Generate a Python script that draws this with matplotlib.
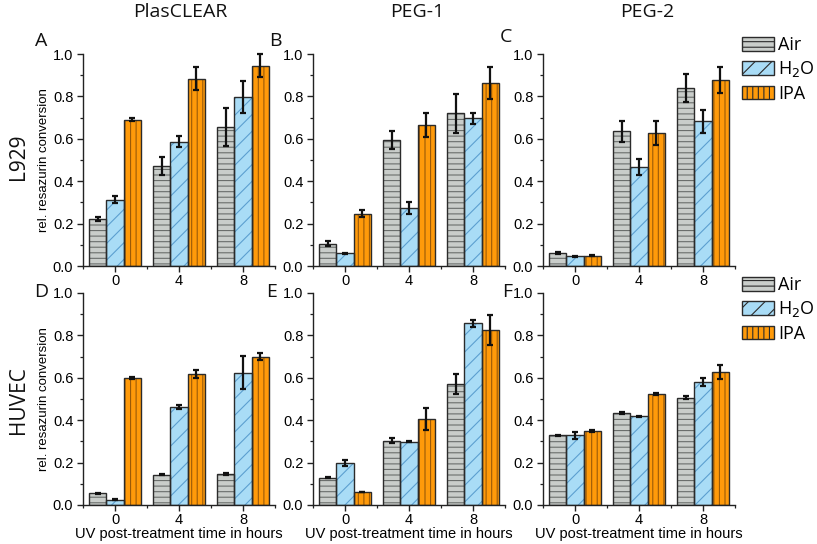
import numpy as np
import matplotlib
matplotlib.use("Agg")
import matplotlib.pyplot as plt
from matplotlib.patches import Patch
from matplotlib.ticker import MultipleLocator, FormatStrFormatter

# ---------------- data ----------------
times = ["0", "4", "8"]
series = ["Air", "H$_2$O", "IPA"]
materials = ["PlasCLEAR", "PEG-1", "PEG-2"]
cells = ["L929", "HUVEC"]
panel_letters = ["A", "B", "C", "D", "E", "F"]

# L929
A_air = [0.220, 0.471, 0.654]; A_air_err = [0.010, 0.044, 0.090]
A_h2o = [0.313, 0.587, 0.798]; A_h2o_err = [0.017, 0.028, 0.076]
A_ipa = [0.690, 0.883, 0.945]; A_ipa_err = [0.008, 0.054, 0.054]

B_air = [0.106, 0.594, 0.720]; B_air_err = [0.012, 0.043, 0.091]
B_h2o = [0.060, 0.274, 0.696]; B_h2o_err = [0.003, 0.028, 0.027]
B_ipa = [0.247, 0.666, 0.863]; B_ipa_err = [0.016, 0.057, 0.074]

C_air = [0.061, 0.635, 0.838]; C_air_err = [0.004, 0.050, 0.066]
C_h2o = [0.046, 0.465, 0.683]; C_h2o_err = [0.003, 0.038, 0.055]
C_ipa = [0.049, 0.628, 0.876]; C_ipa_err = [0.002, 0.058, 0.061]

# HUVEC
D_air = [0.055, 0.143, 0.146]; D_air_err = [0.003, 0.003, 0.004]
D_h2o = [0.024, 0.462, 0.624]; D_h2o_err = [0.002, 0.008, 0.077]
D_ipa = [0.599, 0.618, 0.700]; D_ipa_err = [0.006, 0.017, 0.016]

E_air = [0.128, 0.303, 0.571]; E_air_err = [0.002, 0.012, 0.046]
E_h2o = [0.199, 0.299, 0.857]; E_h2o_err = [0.015, 0.003, 0.018]
E_ipa = [0.060, 0.406, 0.826]; E_ipa_err = [0.001, 0.050, 0.070]

F_air = [0.328, 0.434, 0.506]; F_air_err = [0.003, 0.005, 0.006]
F_h2o = [0.328, 0.418, 0.580]; F_h2o_err = [0.015, 0.002, 0.020]
F_ipa = [0.351, 0.524, 0.629]; F_ipa_err = [0.005, 0.006, 0.033]

panels = [
    (A_air, A_air_err, A_h2o, A_h2o_err, A_ipa, A_ipa_err),
    (B_air, B_air_err, B_h2o, B_h2o_err, B_ipa, B_ipa_err),
    (C_air, C_air_err, C_h2o, C_h2o_err, C_ipa, C_ipa_err),
    (D_air, D_air_err, D_h2o, D_h2o_err, D_ipa, D_ipa_err),
    (E_air, E_air_err, E_h2o, E_h2o_err, E_ipa, E_ipa_err),
    (F_air, F_air_err, F_h2o, F_h2o_err, F_ipa, F_ipa_err),
]

# ---------------- style ----------------
fills = ["#c9cdca", "#a9dcf6", "#ff9a0a"]
hatch_cols = ["#6a6e6c", "#5c9fd0", "#9a5a08"]
hatches = ["---", "//", "|||"]
edge = "#2b2b2b"
plt.rcParams["hatch.linewidth"] = 0.8
tick_font = "Liberation Sans"
title_font = "Open Sans"

W, H = 817, 544
fig = plt.figure(figsize=(W / 100, H / 100), dpi=100)

lefts_px = [83, 313, 543]
ax_w_px = 192
rows_px = [(54, 266), (293, 505)]

bw = 0.27
offsets = [-bw, 0.0, bw]
x = np.arange(len(times))

axes = []
for i, pdata in enumerate(panels):
    r, c = divmod(i, 3)
    top, bot = rows_px[r]
    ax = fig.add_axes([lefts_px[c] / W, 1 - bot / H, ax_w_px / W, (bot - top) / H])
    axes.append(ax)
    for s in range(3):
        vals = pdata[2 * s]
        errs = pdata[2 * s + 1]
        # hatch layer
        ax.bar(x + offsets[s], vals, width=bw, color=fills[s], hatch=hatches[s],
               edgecolor=hatch_cols[s], linewidth=0, zorder=2)
        # outline layer
        ax.bar(x + offsets[s], vals, width=bw, facecolor="none",
               edgecolor=edge, linewidth=1.0, zorder=3)
        ax.errorbar(x + offsets[s], vals, yerr=errs, fmt="none", ecolor="#111111",
                    elinewidth=1.6, capsize=2.5, capthick=1.6, zorder=4, clip_on=False)
    ax.set_xlim(-0.5, 2.5)
    ax.set_ylim(0, 1.0)
    ax.spines["top"].set_visible(False)
    ax.spines["right"].set_visible(False)
    for sp in ("left", "bottom"):
        ax.spines[sp].set_linewidth(1.0)
        ax.spines[sp].set_color("#222222")
    ax.set_xticks(x)
    ax.set_xticklabels(times)
    ax.xaxis.set_minor_locator(MultipleLocator(0.5))
    ax.yaxis.set_major_locator(MultipleLocator(0.2))
    ax.yaxis.set_minor_locator(MultipleLocator(0.1))
    ax.yaxis.set_major_formatter(FormatStrFormatter("%.1f"))
    ax.tick_params(axis="both", which="major", length=4, width=1.0, direction="out",
                   labelsize=10.5, color="#222222", pad=3)
    ax.tick_params(axis="x", which="major", pad=2)
    ax.tick_params(axis="both", which="minor", length=2.5, width=0.9, direction="out",
                   color="#222222")
    for lab in ax.get_xticklabels() + ax.get_yticklabels():
        lab.set_fontfamily(tick_font)
    if c == 0:
        ax.set_ylabel("rel. resazurin conversion", fontsize=9.5, family=tick_font, labelpad=2)
    if r == 1:
        ax.set_xlabel("UV post-treatment time in hours", fontsize=10.5, family=tick_font,
                      labelpad=0)

# column titles
for c, name in enumerate(materials):
    cx = [180, 417, 647][c]
    fig.text(cx / W, 1 - 12 / H, name, ha="center", va="center", fontsize=14,
             family=title_font, color="#111111")

# row labels
for r, name in enumerate(cells):
    cy = [157, 400][r]
    fig.text(18 / W, 1 - cy / H, name, ha="center", va="center", rotation=90,
             fontsize=15, family=title_font, color="#111111")

# panel letters
letter_pos = [(41, 41), (275, 41), (506, 37), (41, 292), (272, 292), (507, 292)]
for L, (px, py) in zip(panel_letters, letter_pos):
    fig.text(px / W, 1 - py / H, L, ha="center", va="center", fontsize=14,
             family=title_font, color="#111111")

# legends
handles = [Patch(facecolor=fills[s], edgecolor=edge, hatch=hatches[s], linewidth=1.0)
           for s in range(3)]
for ly in (36, 276):
    leg = fig.legend(handles, series, loc="upper left",
                     bbox_to_anchor=(742 / W, 1 - ly / H), frameon=False,
                     fontsize=13, handlelength=1.75, handleheight=0.8,
                     handletextpad=0.25, labelspacing=0.3, borderpad=0, borderaxespad=0)
    for t in leg.get_texts():
        t.set_fontfamily(title_font)

fig.savefig("out.png", dpi=100)
